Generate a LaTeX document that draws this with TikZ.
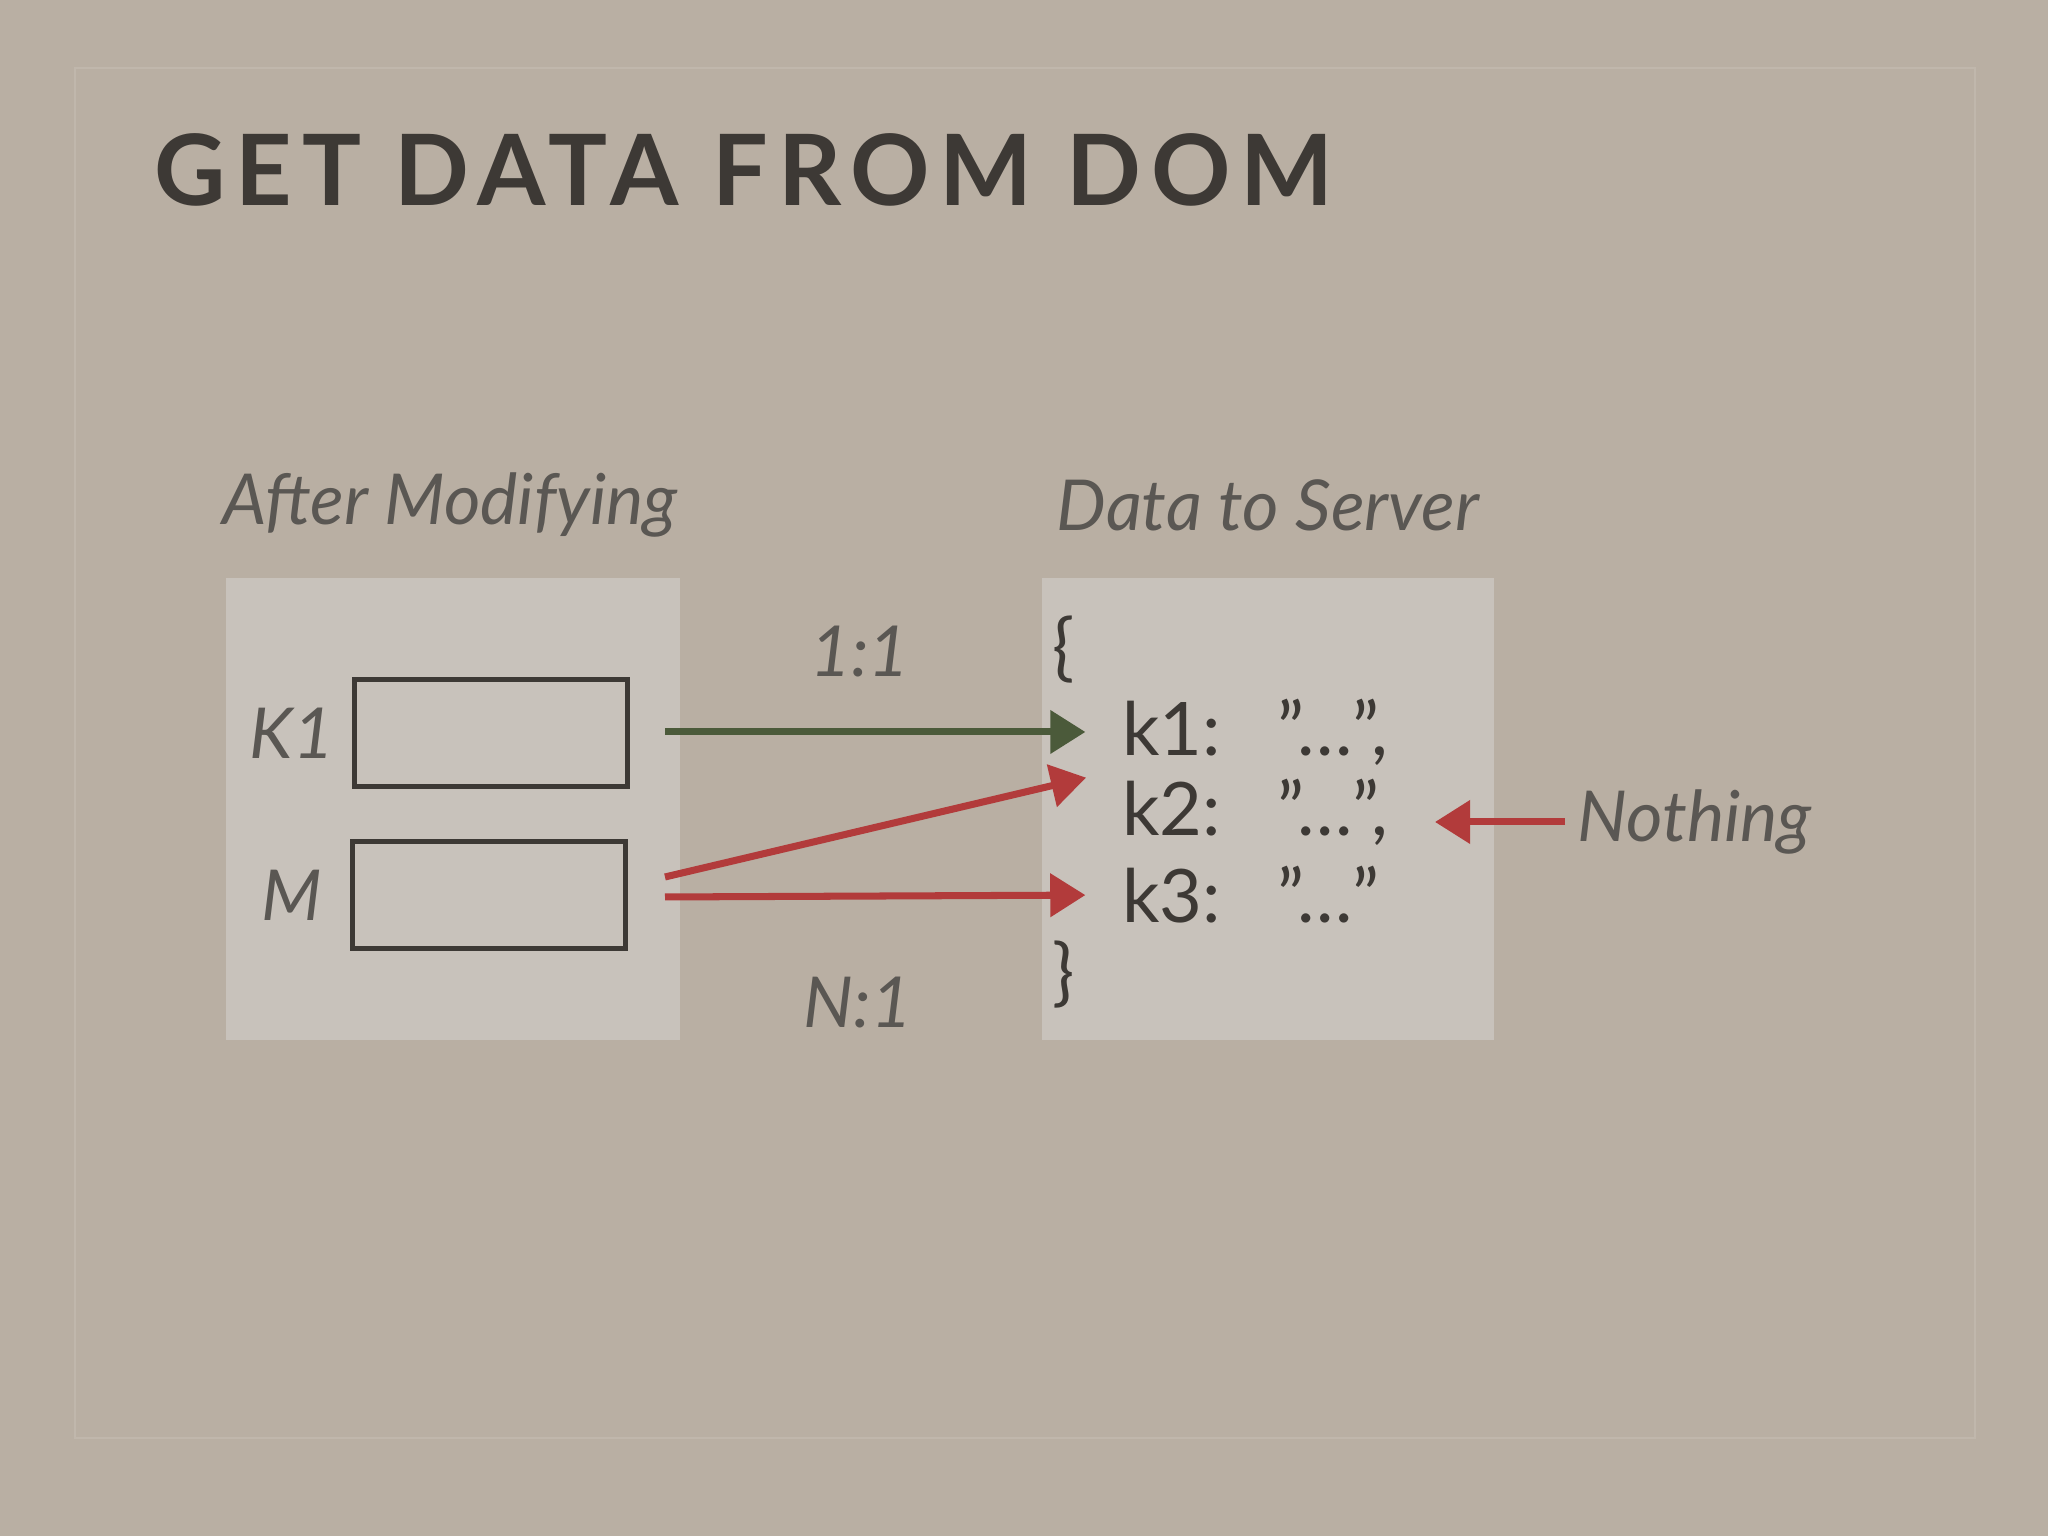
\documentclass[tikz,border=0pt]{standalone}
\usepackage{fontspec}
\setmainfont{Lato}
\newfontfamily\titlefont[LetterSpace=10]{Lato Bold}
\usetikzlibrary{arrows.meta}
\definecolor{paper}{HTML}{B9AFA3}
\definecolor{panel}{HTML}{C8C2BB}
\definecolor{ink}{HTML}{3D3935}
\definecolor{okgreen}{HTML}{4B5A3A}
\definecolor{badred}{HTML}{B23B3B}
\newcommand{\qval}{\symbol{"22}…\symbol{"22}}
\tikzset{
  caption/.style={font=\itshape\fontsize{20}{24}\selectfont, text=ink!85},
  panelbox/.style={fill=panel, draw=none},
  field/.style={draw=ink, line width=1.4pt, minimum width=2.73cm, minimum height=1.07cm},
  codeline/.style={anchor=west, font=\fontsize{21}{25}\selectfont, text=ink},
  link/.style={line width=2pt, shorten >=7pt, -{Triangle[length=10pt,width=12pt]}}
}
\begin{document}
\begin{tikzpicture}
\useasboundingbox (0,0) rectangle (20.48,15.36);
\fill[paper] (0,0) rectangle (20.48,15.36);
\draw[paper!90!white, line width=0.8pt] (0.75,0.98) rectangle (19.75,14.68);
\node[anchor=west, text=ink, font=\titlefont\fontsize{28}{32}\selectfont] (title) at (1.42,13.66) {GET DATA FROM DOM};

% panels
\fill[panelbox] (2.26,4.96) rectangle (6.80,9.58);
\fill[panelbox] (10.42,4.96) rectangle (14.94,9.58);
\node[caption] (after) at (4.50,10.31) {After Modifying};
\node[caption] (server) at (12.68,10.31) {Data to Server};

% dom fields
\node[field] (k1box) at (4.91,8.03) {};
\node[field] (mbox) at (4.89,6.41) {};
\node[caption] (k1lab) at (2.92,8.03) {K1};
\node[caption] (mlab) at (2.92,6.41) {M};

% payload
\node[codeline] (open) at (10.40,8.86) {\{};
\node[codeline] (k1) at (11.10,8.04) {k1:\ \ \ \qval,};
\node[codeline] (k2) at (11.10,7.24) {k2:\ \ \ \qval,};
\node[codeline] (k3) at (11.10,6.41) {k3:\ \ \ \qval};
\node[codeline] (close) at (10.40,5.61) {\}};

\coordinate (k1out) at (6.65,8.04);
\coordinate (mout1) at (6.65,6.59);
\coordinate (mout2) at (6.65,6.39);
\draw[link, okgreen] (k1out) -- (k1.west);
\draw[link, badred] (mout1) -- ([yshift=0.4cm]k2.west);
\draw[link, badred] (mout2) -- (k3.west);

\node[caption] (one) at (8.60,8.84) {1:1};
\node[caption] (many) at (8.58,5.33) {N:1};
\node[caption, anchor=west] (nothing) at (15.65,7.14) {Nothing};
\draw[link, badred, shorten >=0pt] (nothing.west) -- (14.35,7.14);
\end{tikzpicture}
\end{document}
